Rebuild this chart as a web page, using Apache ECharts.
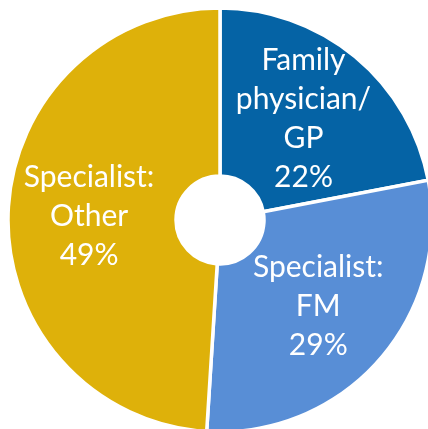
<!DOCTYPE html>
<html>
<head>
<meta charset="utf-8">
<script src="https://cdn.jsdelivr.net/npm/echarts@6/dist/echarts.min.js"></script>
<style>
    html, body { margin: 0; padding: 0; background: #fff; }
    #chart { width: 428px; height: 429px; }
</style>
</head>
<body>
<div id="chart"></div>
<script>
    // 类别、数值、颜色
    var categories = ['Family\nphysician/\nGP', 'Specialist:\nFM', 'Specialist:\nOther'];
    var values = [22, 29, 49];
    var colors = ['#0563A5', '#588ED6', '#DEB10A'];

    var myChart = echarts.init(document.getElementById('chart'));
    var seriesData = categories.map(function (name, i) {
        return {
            name: name,
            value: values[i],
            itemStyle: { color: colors[i] }
        };
    });

    var option = {
        animation: false,
        series: [
            {
                type: 'pie',
                center: [220, 220],
                radius: [44, 212],
                startAngle: 90,
                clockwise: true,
                itemStyle: {
                    borderColor: '#ffffff',
                    borderWidth: 3.5
                },
                label: {
                    show: true,
                    position: 'inside',
                    formatter: '{b}\n{c}%',
                    color: '#ffffff',
                    fontFamily: 'Lato',
                    fontSize: 30,
                    lineHeight: 39,
                    align: 'center'
                },
                labelLine: { show: false },
                emphasis: { disabled: true },
                data: seriesData
            }
        ]
    };
    myChart.setOption(option);
</script>
</body>
</html>
